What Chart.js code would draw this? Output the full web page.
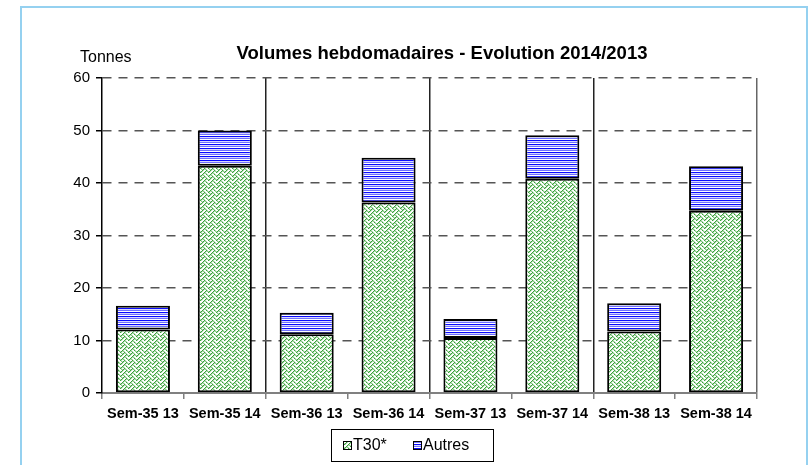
<!DOCTYPE html>
<html>
<head>
<meta charset="utf-8">
<script src="https://cdn.jsdelivr.net/npm/chart.js@4.4.0/dist/chart.umd.min.js"></script>
<style>
  html, body { margin: 0; padding: 0; background: #fff; }
  canvas { display: block; }
</style>
</head>
<body>
<canvas id="volChart" width="812" height="465"></canvas>
<script>
// data (tonnes)
const weeks = ['Sem-35 13', 'Sem-35 14', 'Sem-36 13', 'Sem-36 14', 'Sem-37 13', 'Sem-37 14', 'Sem-38 13', 'Sem-38 14'];
const t30 = [12.1, 43.3, 11.2, 36.3, 10.5, 40.8, 11.7, 34.7];
const autres = [4.5, 6.7, 4.1, 8.5, 3.6, 8.3, 5.4, 8.5];
const seriesNames = ['T30*', 'Autres'];
const yTicks = [0, 10, 20, 30, 40, 50, 60];
const titleText = 'Volumes hebdomadaires - Evolution 2014/2013';
const unitText = 'Tonnes';

const FONT = '"Liberation Sans", Arial, sans-serif';

// green "weave" fill
function makeWeave() {
    const bits = [0x88, 0x54, 0x22, 0x45, 0x88, 0x14, 0x22, 0x51];
    const c = document.createElement('canvas');
    c.width = 8; c.height = 8;
    const g = c.getContext('2d');
    g.fillStyle = '#ffffff';
    g.fillRect(0, 0, 8, 8);
    for (let y = 0; y < 8; y++) {
        for (let x = 0; x < 8; x++) {
            if (bits[y] & (0x80 >> x)) {
                g.fillStyle = '#b4dfb4';
                g.fillRect((x + 1) % 8, y, 1, 1);
                g.fillStyle = (x + y) % 4 === 0 ? '#3a9e3a' : '#86c986';
                g.fillRect(x, y, 1, 1);
            }
        }
    }
    return g.createPattern(c, 'repeat');
}

// blue horizontal stripes
function makeStripes() {
    const c = document.createElement('canvas');
    c.width = 4; c.height = 4;
    const g = c.getContext('2d');
    const rows = ['#0a0aff', '#d6d6ff', '#7070ff', '#ffffff'];
    rows.forEach((col, i) => { g.fillStyle = col; g.fillRect(0, i, 4, 1); });
    return g.createPattern(c, 'repeat');
}

const greenFill = makeWeave();
const blueFill = makeStripes();

const decor = {
    id: 'decor',
    beforeDraw(chart) {
        const ctx = chart.ctx;
        ctx.save();
        ctx.strokeStyle = '#95d1f0';
        ctx.lineWidth = 2;
        ctx.strokeRect(21, 7, 786, 480);
        ctx.restore();
    },
    afterDraw(chart) {
        const ctx = chart.ctx;
        ctx.save();
        ctx.fillStyle = '#000';
        ctx.textBaseline = 'alphabetic';

        ctx.font = 'bold 18.5px ' + FONT;
        ctx.textAlign = 'center';
        ctx.fillText(titleText, 442, 59);

        ctx.font = '16px ' + FONT;
        ctx.textAlign = 'left';
        ctx.fillText(unitText, 80, 62);

        // legend
        ctx.strokeStyle = '#000';
        ctx.lineWidth = 1;
        ctx.strokeRect(331.5, 429.5, 162, 32);
        const items = chart.data.datasets;
        const xs = [343, 413];
        ctx.font = '16px ' + FONT;
        ctx.textBaseline = 'middle';
        items.forEach((ds, i) => {
            ctx.fillStyle = ds.backgroundColor;
            ctx.fillRect(xs[i], 441, 9, 9);
            ctx.strokeRect(xs[i] + 0.5, 441.5, 8, 8);
            ctx.fillStyle = '#000';
            ctx.fillText(ds.label, xs[i] + 10, 446);
        });
        ctx.restore();
    }
};

new Chart(document.getElementById('volChart'), {
    type: 'bar',
    data: {
        labels: weeks,
        datasets: [{
            label: seriesNames[0],
            data: t30,
            backgroundColor: greenFill,
            borderColor: '#000',
            borderWidth: 2,
            borderSkipped: false
        }, {
            label: seriesNames[1],
            data: autres,
            backgroundColor: blueFill,
            borderColor: '#000',
            borderWidth: 2,
            borderSkipped: false
        }]
    },
    options: {
        responsive: false,
        animation: false,
        layout: { padding: { left: 0, top: 78, right: 55, bottom: 0 } },
        plugins: {
            legend: { display: false },
            title: { display: false },
            tooltip: { enabled: false }
        },
        datasets: {
            bar: { categoryPercentage: 1, barPercentage: 0.66 }
        },
        scales: {
            x: {
                stacked: true,
                afterFit: s => { s.height = 72; },
                border: { display: true, color: '#808080', width: 2 },
                grid: {
                    offset: true,
                    drawOnChartArea: true,
                    tickLength: 6,
                    tickColor: '#808080',
                    lineWidth: 1.5,
                    color: c => {
                        if (c.index === undefined) return '#666';
                        return (c.index % 2 === 0 && c.index > 0) ? '#222' : 'rgba(0,0,0,0)';
                    }
                },
                ticks: {
                    color: '#000',
                    padding: 6,
                    maxRotation: 0,
                    font: { family: FONT, size: 14.5, weight: 'bold' }
                }
            },
            y: {
                stacked: true,
                min: 0,
                max: 60,
                afterFit: s => { s.width = 102; },
                afterBuildTicks: s => { s.ticks = yTicks.map(v => ({ value: v })); },
                border: { display: true, color: '#000', width: 1.5, dash: [9, 7] },
                grid: {
                    tickLength: 6,
                    tickColor: '#000',
                    lineWidth: 1.5,
                    color: c => c.tick && c.tick.value === 0 ? 'rgba(0,0,0,0)' : '#555'
                },
                ticks: {
                    color: '#000',
                    padding: 6,
                    font: { family: FONT, size: 15 }
                }
            }
        }
    },
    plugins: [decor]
});
</script>
</body>
</html>
